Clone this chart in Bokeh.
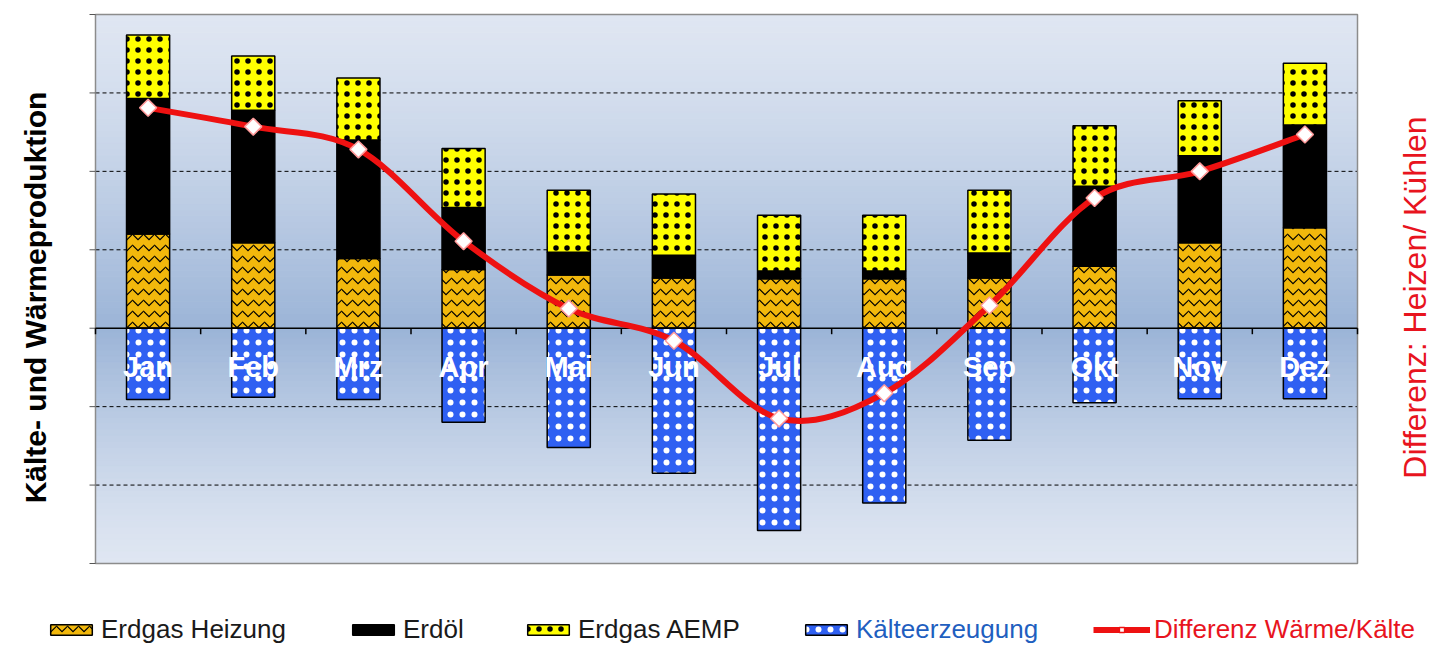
import math
import numpy as np
from bokeh.plotting import figure
from bokeh.models import ColumnDataSource, Range1d, Legend, LegendItem
from bokeh.core.properties import value
from bokeh.embed import file_html
from bokeh.resources import INLINE

# ---------------- data ----------------
months = ["Jan", "Feb", "Mrz", "Apr", "Mai", "Jun", "Jul", "Aug", "Sep", "Okt", "Nov", "Dez"]
erdgas_heizung = [1.20, 1.09, 0.89, 0.75, 0.68, 0.64, 0.63, 0.63, 0.64, 0.79, 1.09, 1.28]
erdoel = [1.73, 1.69, 1.51, 0.79, 0.29, 0.29, 0.10, 0.10, 0.32, 1.02, 1.11, 1.31]
erdgas_aemp = [0.81, 0.69, 0.79, 0.75, 0.79, 0.78, 0.71, 0.71, 0.80, 0.77, 0.70, 0.79]
kaelte = [-0.91, -0.88, -0.91, -1.20, -1.52, -1.85, -2.58, -2.23, -1.43, -0.95, -0.90, -0.90]
differenz = [2.81, 2.57, 2.28, 1.11, 0.25, -0.16, -1.15, -0.83, 0.29, 1.66, 2.00, 2.47]
y_ticks = [-3, -2, -1, 0, 1, 2, 3, 4]
grid_lines = [-2, -1, 1, 2, 3]
y_title = "Kälte- und Wärmeproduktion"
y2_title = "Differenz: Heizen/ Kühlen"

# ---------------- layout geometry (pixels) ----------------
W, H = 1434, 648
L, R, T, B = 95, 1357, 14, 563          # chart area inside the canvas
n = len(months)
YMIN, YMAX = y_ticks[0], y_ticks[-1]
ux = n / (R - L)                          # data units per pixel (x)
uy = (YMAX - YMIN) / (B - T)              # data units per pixel (y)


def xd(px):
    return (px - L) * ux


def yd(py):
    return YMAX - (py - T) * uy


# ---------------- derived ----------------
xc = np.arange(n) + 0.5
h = np.array(erdgas_heizung)
o = np.array(erdoel)
a = np.array(erdgas_aemp)
src = ColumnDataSource(dict(
    x=xc, month=months,
    h_top=h, o_bot=h, o_top=h + o, a_bot=h + o, a_top=h + o + a,
    k=np.array(kaelte), zero=np.zeros(n), d=np.array(differenz),
    lab_y=np.full(n, -0.5),
))

FONT = "Liberation Sans"
RED = "#ee1111"

BW = 0.41
sty_h = dict(fill_color="#f2b80c", line_color="black", line_width=1.5,
             hatch_pattern="horizontal_wave", hatch_color="black",
             hatch_scale=11, hatch_weight=1.2)
sty_o = dict(fill_color="black", line_color="black", line_width=1.5)
sty_a = dict(fill_color="#ffff00", line_color="black", line_width=1.5,
             hatch_pattern="dot", hatch_color="black", hatch_scale=11,
             hatch_weight=0.6)
sty_k = dict(fill_color="#2f60f2", line_color="black", line_width=1.5,
             hatch_pattern="dot", hatch_color="white", hatch_scale=12,
             hatch_weight=0.6)
sty_line = dict(line_color=RED, line_width=6)
sty_mark = dict(marker="square", angle=math.pi / 4, size=12,
                fill_color="white", line_color="#ff9a9a", line_width=1.5)

p = figure(width=W, height=H, output_backend="svg", toolbar_location=None,
           x_range=Range1d(xd(0), xd(W)), y_range=Range1d(yd(H), yd(0)),
           x_axis_location=None, y_axis_location=None,
           min_border_left=0, min_border_right=0, min_border_top=0,
           min_border_bottom=0)
p.outline_line_color = None
p.background_fill_color = "white"
p.border_fill_color = "white"
p.xgrid.visible = False
p.ygrid.visible = False

# ---- background gradient of chart area (decoration) ----
nb = 90
edges = np.linspace(YMIN, YMAX, nb + 1)
mids = (edges[:-1] + edges[1:]) / 2
light = np.array([223, 230, 242])
dark = np.array([155, 180, 215])
cols = []
for m in mids:
    t = (1 - m / YMAX) if m >= 0 else (1 - m / YMIN)
    t = max(0.0, min(1.0, t)) ** 1.3
    c = light + (dark - light) * t
    cols.append("#%02x%02x%02x" % tuple(int(round(v)) for v in c))
p.quad(left=0, right=n, bottom=edges[:-1], top=edges[1:], fill_color=cols,
       line_color=cols, line_width=1)

# ---- dashed grid lines (behind bars) ----
p.segment(x0=[0] * len(grid_lines), x1=[n] * len(grid_lines), y0=grid_lines,
          y1=grid_lines, line_color="black", line_width=1, line_dash="4 3")

# chart area border + left tick marks
p.quad(left=[0], right=[n], bottom=[YMIN], top=[YMAX], fill_color=None,
       line_color="#8c8c8c", line_width=1.5)
p.segment(x0=np.zeros(len(y_ticks)), x1=np.full(len(y_ticks), -6 * ux),
          y0=y_ticks, y1=y_ticks, line_color="#555555", line_width=1)

p.vbar(x="x", bottom="zero", top="h_top", width=BW, source=src, **sty_h)
p.vbar(x="x", bottom="o_bot", top="o_top", width=BW, source=src, **sty_o)
p.vbar(x="x", bottom="a_bot", top="a_top", width=BW, source=src, **sty_a)
p.vbar(x="x", bottom="k", top="zero", width=BW, source=src, **sty_k)

# zero line + category tick marks
p.segment(x0=[0], x1=[n], y0=[0], y1=[0], line_color="black", line_width=1.5)
bnd = np.arange(0, n + 1)
p.segment(x0=bnd, x1=bnd, y0=np.zeros(n + 1), y1=np.full(n + 1, -6 * uy),
          line_color="black", line_width=1.5)

# month labels inside plot
p.text(x="x", y="lab_y", text="month", source=src, text_color="white",
       text_font=value(FONT), text_font_style="bold", text_font_size="29px",
       text_align="center", text_baseline="middle")

# smoothed difference curve (Catmull-Rom -> cubic Bezier)
d = np.array(differenz)
P = np.column_stack([xc, d])
Pm = np.vstack([P[0], P, P[-1]])
x0s, y0s, x1s, y1s, c0x, c0y, c1x, c1y = [], [], [], [], [], [], [], []
for i in range(n - 1):
    p0, p1, p2, p3 = Pm[i], Pm[i + 1], Pm[i + 2], Pm[i + 3]
    cp1 = p1 + (p2 - p0) / 6.0
    cp2 = p2 - (p3 - p1) / 6.0
    x0s.append(p1[0]); y0s.append(p1[1]); x1s.append(p2[0]); y1s.append(p2[1])
    c0x.append(cp1[0]); c0y.append(cp1[1]); c1x.append(cp2[0]); c1y.append(cp2[1])
p.bezier(x0=x0s, y0=y0s, x1=x1s, y1=y1s, cx0=c0x, cy0=c0y, cx1=c1x, cy1=c1y,
         **sty_line)
r_line_leg = p.line(x="x", y="d", source=src, visible=False, **sty_line)
r_mark = p.scatter(x="x", y="d", source=src, **sty_mark)

# axis titles
p.text(x=[xd(35)], y=[yd(297)], text=[y_title], angle=math.pi / 2,
       text_font=value(FONT), text_font_style="bold", text_font_size="30px",
       text_color="black", text_align="center", text_baseline="middle")
p.text(x=[xd(1414)], y=[yd(297)], text=[y2_title], angle=math.pi / 2,
       text_font=value(FONT), text_font_style="normal", text_font_size="32px",
       text_color="#e8141e", text_align="center", text_baseline="middle")

# legend-only renderers (hidden)
lr_h = p.vbar(x="x", bottom="zero", top="h_top", width=BW, source=src, visible=False, **sty_h)
lr_o = p.vbar(x="x", bottom="o_bot", top="o_top", width=BW, source=src, visible=False, **sty_o)
lr_a = p.vbar(x="x", bottom="a_bot", top="a_top", width=BW, source=src, visible=False, **sty_a)
lr_k = p.vbar(x="x", bottom="k", top="zero", width=BW, source=src, visible=False, **sty_k)
lr_m = p.scatter(x="x", y="d", source=src, visible=False,
                 **dict(sty_mark, size=13, line_color=RED))


def add_leg(label, renderers, vx, color, gw=52):
    leg = Legend(items=[LegendItem(label=label, renderers=renderers)],
                 location=(vx, 3), orientation="horizontal",
                 border_line_color=None, background_fill_alpha=0,
                 inactive_fill_alpha=0,
                 padding=0, margin=0, spacing=0, label_standoff=4,
                 glyph_width=gw, glyph_height=13, label_height=26,
                 label_text_font=FONT, label_text_font_size="26px",
                 label_text_color=color, label_text_baseline="middle")
    p.add_layout(leg, "center")


add_leg("Erdgas Heizung", [lr_h], 45, "#1a1a1a")
add_leg("Erdöl", [lr_o], 347, "#1a1a1a")
add_leg("Erdgas AEMP", [lr_a], 522, "#1a1a1a")
add_leg("Kälteerzeugung", [lr_k], 800, "#1f5fbf")
add_leg("Differenz Wärme/Kälte", [r_line_leg, lr_m], 1093, "#e8141e", gw=57)

open("out.html", "w").write(file_html(p, INLINE))
